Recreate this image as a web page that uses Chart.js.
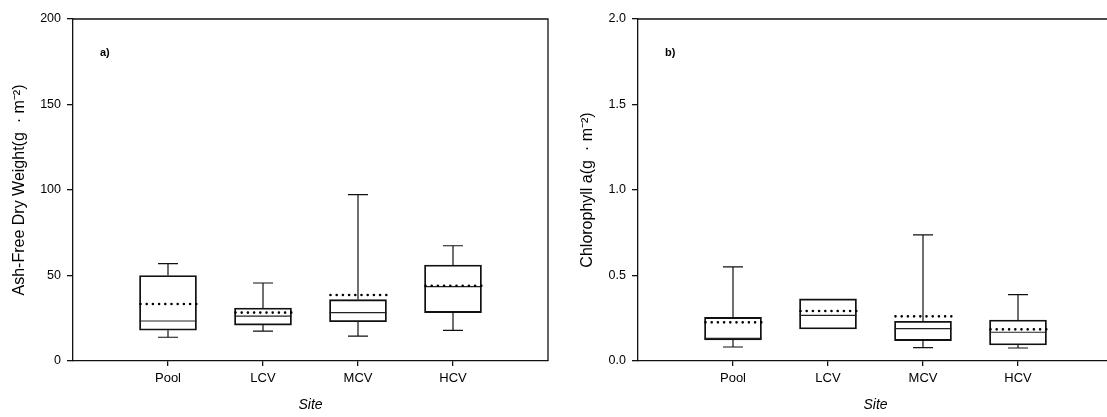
<!DOCTYPE html>
<html lang="en">
<head>
    <meta charset="UTF-8">
    <title>AFDW and Chlorophyll a by Site</title>
    <script src="https://cdn.jsdelivr.net/npm/chart.js"></script>
    <style>
        html, body { margin: 0; padding: 0; background: #fff; overflow: hidden; }
        body { width: 1107px; height: 417px; position: relative; }
        .panel { position: absolute; top: 0; height: 417px; }
        #panelA { left: 0; width: 553px; }
        #panelB { left: 553px; width: 560px; }
    </style>
</head>
<body>
    <div class="panel" id="panelA"><canvas id="afdwChart"></canvas></div>
    <div class="panel" id="panelB"><canvas id="chlChart"></canvas></div>

    <script>
        // sites along the x axis
        const sites = ['Pool', 'LCV', 'MCV', 'HCV'];

        // a) Ash-free dry weight (g m-2)
        const afdwMin    = [13.9, 17.5, 14.6, 17.9];
        const afdwQ1     = [18.0, 21.0, 23.0, 28.3];
        const afdwMedian = [23.4, 26.3, 28.3, 43.5];
        const afdwQ3     = [50.0, 31.0, 35.9, 56.1];
        const afdwMax    = [57.0, 45.6, 97.3, 67.4];
        const afdwMean   = [33.3, 28.3, 38.6, 44.0];

        // b) Chlorophyll a (g m-2)
        const chlMin    = [0.082, 0.187, 0.078, 0.076];
        const chlQ1     = [0.123, 0.187, 0.119, 0.094];
        const chlMedian = [0.132, 0.267, 0.189, 0.168];
        const chlQ3     = [0.255, 0.363, 0.232, 0.240];
        const chlMax    = [0.551, 0.363, 0.737, 0.388];
        const chlMean   = [0.226, 0.292, 0.261, 0.185];

        const FONT = 'Liberation Sans, Arial, sans-serif';
        const INK = '#111';

        function makeBoxChart(canvasId, s, cfg) {
            // whiskers, caps, medians and means drawn through the chart scales
            const boxExtras = {
                id: 'boxExtras',
                afterDatasetsDraw(chart) {
                    const ctx = chart.ctx;
                    const xs = chart.scales.x, ys = chart.scales.y;
                    const halfBox = 28.5, halfCap = 10;
                    ctx.save();
                    sites.forEach((name, i) => {
                        const cx = xs.getPixelForValue(i + 1);
                        const yMin = ys.getPixelForValue(s.min[i]);
                        const yQ1 = ys.getPixelForValue(s.q1[i]);
                        const yQ3 = ys.getPixelForValue(s.q3[i]);
                        const yMax = ys.getPixelForValue(s.max[i]);
                        ctx.strokeStyle = INK;
                        ctx.lineWidth = 1.2;
                        ctx.setLineDash([]);
                        ctx.beginPath();
                        if (s.max[i] > s.q3[i]) {
                            ctx.moveTo(cx, yQ3); ctx.lineTo(cx, yMax);
                            ctx.moveTo(cx - halfCap, yMax); ctx.lineTo(cx + halfCap, yMax);
                        }
                        if (s.min[i] < s.q1[i]) {
                            ctx.moveTo(cx, yQ1); ctx.lineTo(cx, yMin);
                            ctx.moveTo(cx - halfCap, yMin); ctx.lineTo(cx + halfCap, yMin);
                        }
                        ctx.stroke();
                        // median
                        const yMed = ys.getPixelForValue(s.median[i]);
                        ctx.lineWidth = 1.2;
                        ctx.strokeStyle = '#222';
                        ctx.beginPath();
                        ctx.moveTo(cx - halfBox, yMed); ctx.lineTo(cx + halfBox, yMed);
                        ctx.stroke();
                        // mean, dotted
                        const yMean = ys.getPixelForValue(s.mean[i]);
                        ctx.strokeStyle = '#000';
                        ctx.lineWidth = 2.6;
                        ctx.lineCap = 'round';
                        ctx.setLineDash([0, 6.2]);
                        ctx.beginPath();
                        ctx.moveTo(cx - halfBox + 1, yMean); ctx.lineTo(cx + halfBox, yMean);
                        ctx.stroke();
                        ctx.lineCap = 'butt';
                        ctx.setLineDash([]);
                    });
                    ctx.restore();
                },
                afterDraw(chart) {
                    const ctx = chart.ctx;
                    const a = chart.chartArea;
                    ctx.save();
                    // top and right frame lines
                    ctx.strokeStyle = INK;
                    ctx.lineWidth = 1.3;
                    ctx.beginPath();
                    ctx.moveTo(a.left, a.top); ctx.lineTo(a.right, a.top); ctx.lineTo(a.right, a.bottom);
                    ctx.stroke();
                    // panel letter
                    ctx.fillStyle = '#000';
                    ctx.font = 'bold 11px ' + FONT;
                    ctx.textBaseline = 'middle';
                    ctx.fillText(cfg.letter, a.left + 27, a.top + 34);
                    ctx.restore();
                }
            };

            return new Chart(document.getElementById(canvasId), {
                type: 'bar',
                data: {
                    datasets: [{
                        data: sites.map((name, i) => ({ x: i + 1, y: [s.q1[i], s.q3[i]] })),
                        backgroundColor: 'rgba(0,0,0,0)',
                        borderColor: INK,
                        borderWidth: 1.2,
                        borderSkipped: false,
                        barThickness: 57
                    }]
                },
                options: {
                    responsive: true,
                    maintainAspectRatio: false,
                    animation: false,
                    layout: { padding: { top: 19, right: cfg.padRight, left: 0, bottom: 0 } },
                    plugins: { legend: { display: false }, tooltip: { enabled: false } },
                    scales: {
                        x: {
                            type: 'linear',
                            min: 0,
                            max: 5,
                            offset: false,
                            afterBuildTicks: axis => {
                                axis.ticks = sites.map((name, i) => ({ value: i + 1 }));
                            },
                            afterFit: axis => { axis.height = 56; },
                            ticks: {
                                callback: v => sites[v - 1] || '',
                                color: '#000',
                                font: { family: FONT, size: 13 },
                                padding: 5,
                                maxRotation: 0,
                                autoSkip: false
                            },
                            grid: { drawOnChartArea: false, offset: false, tickLength: 5, color: INK, lineWidth: 1.3 },
                            border: { color: INK, width: 1.3 },
                            title: {
                                display: true,
                                text: 'Site',
                                color: '#000',
                                font: { family: FONT, size: 14, style: 'italic' },
                                padding: { top: 0, bottom: 3 }
                            }
                        },
                        y: {
                            min: 0,
                            max: cfg.yMax,
                            afterBuildTicks: axis => {
                                axis.ticks = cfg.yTicks.map(v => ({ value: v }));
                            },
                            afterFit: axis => { axis.width = cfg.yWidth; },
                            ticks: {
                                callback: cfg.tickFormat,
                                color: '#000',
                                font: { family: FONT, size: 12.5 },
                                padding: 6
                            },
                            grid: { drawOnChartArea: false, tickLength: 6, color: INK, lineWidth: 1.3 },
                            border: { color: INK, width: 1.3 },
                            title: {
                                display: true,
                                text: cfg.yTitle,
                                color: '#000',
                                font: { family: FONT, size: 16 },
                                padding: { top: cfg.titlePad, bottom: 0 }
                            }
                        }
                    }
                },
                plugins: [boxExtras]
            });
        }

        const afdwTicks = [0, 50, 100, 150, 200];
        const chlTicks = [0, 0.5, 1.0, 1.5, 2.0];

        makeBoxChart('afdwChart', {
            min: afdwMin, q1: afdwQ1, median: afdwMedian, q3: afdwQ3, max: afdwMax, mean: afdwMean
        }, {
            letter: 'a)', yMax: 200, yTicks: afdwTicks, yWidth: 73, padRight: 5, titlePad: 10,
            tickFormat: v => String(v),
            yTitle: 'Ash-Free Dry Weight(g  \u00B7 m\u207B\u00B2)'
        });

        makeBoxChart('chlChart', {
            min: chlMin, q1: chlQ1, median: chlMedian, q3: chlQ3, max: chlMax, mean: chlMean
        }, {
            letter: 'b)', yMax: 2.0, yTicks: chlTicks, yWidth: 85, padRight: 0, titlePad: 25,
            tickFormat: v => Number(v).toFixed(1),
            yTitle: 'Chlorophyll a(g  \u00B7 m\u207B\u00B2)'
        });
    </script>
</body>
</html>
